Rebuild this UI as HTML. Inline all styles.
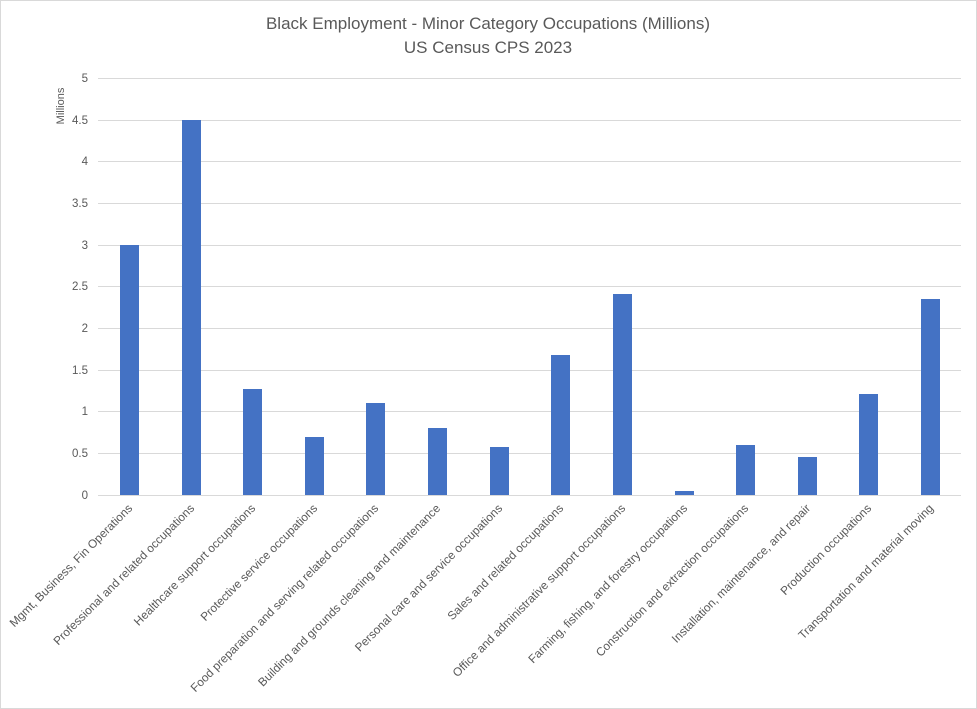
<!DOCTYPE html>
<html><head><style>body{margin:0;background:#fff}svg{display:block}</style></head><body>
<svg width="977" height="709" xmlns="http://www.w3.org/2000/svg" font-family="Liberation Sans, sans-serif">
<rect x="0.5" y="0.5" width="976" height="708" fill="#fff" stroke="#d9d9d9"/>
<text x="488" y="29" text-anchor="middle" font-size="17" fill="#595959">Black Employment - Minor Category Occupations (Millions)</text>
<text x="488" y="53" text-anchor="middle" font-size="17" fill="#595959">US Census CPS 2023</text>
<text transform="translate(64,106) rotate(-90)" text-anchor="middle" font-size="11" fill="#595959">Millions</text>
<g stroke="#d9d9d9" stroke-width="1">
<line x1="98" x2="961" y1="78.5" y2="78.5"/><line x1="98" x2="961" y1="120.5" y2="120.5"/><line x1="98" x2="961" y1="161.5" y2="161.5"/><line x1="98" x2="961" y1="203.5" y2="203.5"/><line x1="98" x2="961" y1="245.5" y2="245.5"/><line x1="98" x2="961" y1="286.5" y2="286.5"/><line x1="98" x2="961" y1="328.5" y2="328.5"/><line x1="98" x2="961" y1="370.5" y2="370.5"/><line x1="98" x2="961" y1="411.5" y2="411.5"/><line x1="98" x2="961" y1="453.5" y2="453.5"/><line x1="98" x2="961" y1="495.5" y2="495.5"/>
</g>
<g font-size="11.5" fill="#595959" text-anchor="end">
<text x="88" y="82">5</text><text x="88" y="124">4.5</text><text x="88" y="165">4</text><text x="88" y="207">3.5</text><text x="88" y="249">3</text><text x="88" y="290">2.5</text><text x="88" y="332">2</text><text x="88" y="374">1.5</text><text x="88" y="415">1</text><text x="88" y="457">0.5</text><text x="88" y="499">0</text>
</g>
<g fill="#4472c4">
<rect x="120" y="245" width="19" height="250"/>
<rect x="182" y="120" width="19" height="375"/>
<rect x="243" y="389" width="19" height="106"/>
<rect x="305" y="437" width="19" height="58"/>
<rect x="366" y="403" width="19" height="92"/>
<rect x="428" y="428" width="19" height="67"/>
<rect x="490" y="447" width="19" height="48"/>
<rect x="551" y="355" width="19" height="140"/>
<rect x="613" y="294" width="19" height="201"/>
<rect x="675" y="491" width="19" height="4"/>
<rect x="736" y="445" width="19" height="50"/>
<rect x="798" y="457" width="19" height="38"/>
<rect x="859" y="394" width="19" height="101"/>
<rect x="921" y="299" width="19" height="196"/>
</g>
<g font-size="11.8" fill="#595959" text-anchor="end">
<text transform="translate(133,509) rotate(-45)">Mgmt, Business, Fin Operations</text>
<text transform="translate(195,509) rotate(-45)">Professional and related occupations</text>
<text transform="translate(256,509) rotate(-45)">Healthcare support occupations</text>
<text transform="translate(318,509) rotate(-45)">Protective service occupations</text>
<text transform="translate(379,509) rotate(-45)">Food preparation and serving related occupations</text>
<text transform="translate(441,509) rotate(-45)">Building and grounds cleaning and maintenance</text>
<text transform="translate(503,509) rotate(-45)">Personal care and service occupations</text>
<text transform="translate(564,509) rotate(-45)">Sales and related occupations</text>
<text transform="translate(626,509) rotate(-45)">Office and administrative support occupations</text>
<text transform="translate(688,509) rotate(-45)">Farming, fishing, and forestry occupations</text>
<text transform="translate(749,509) rotate(-45)">Construction and extraction occupations</text>
<text transform="translate(811,509) rotate(-45)">Installation, maintenance, and repair</text>
<text transform="translate(872,509) rotate(-45)">Production occupations</text>
<text transform="translate(934,509) rotate(-45)">Transportation and material moving</text>
</g>
</svg>
</body></html>
